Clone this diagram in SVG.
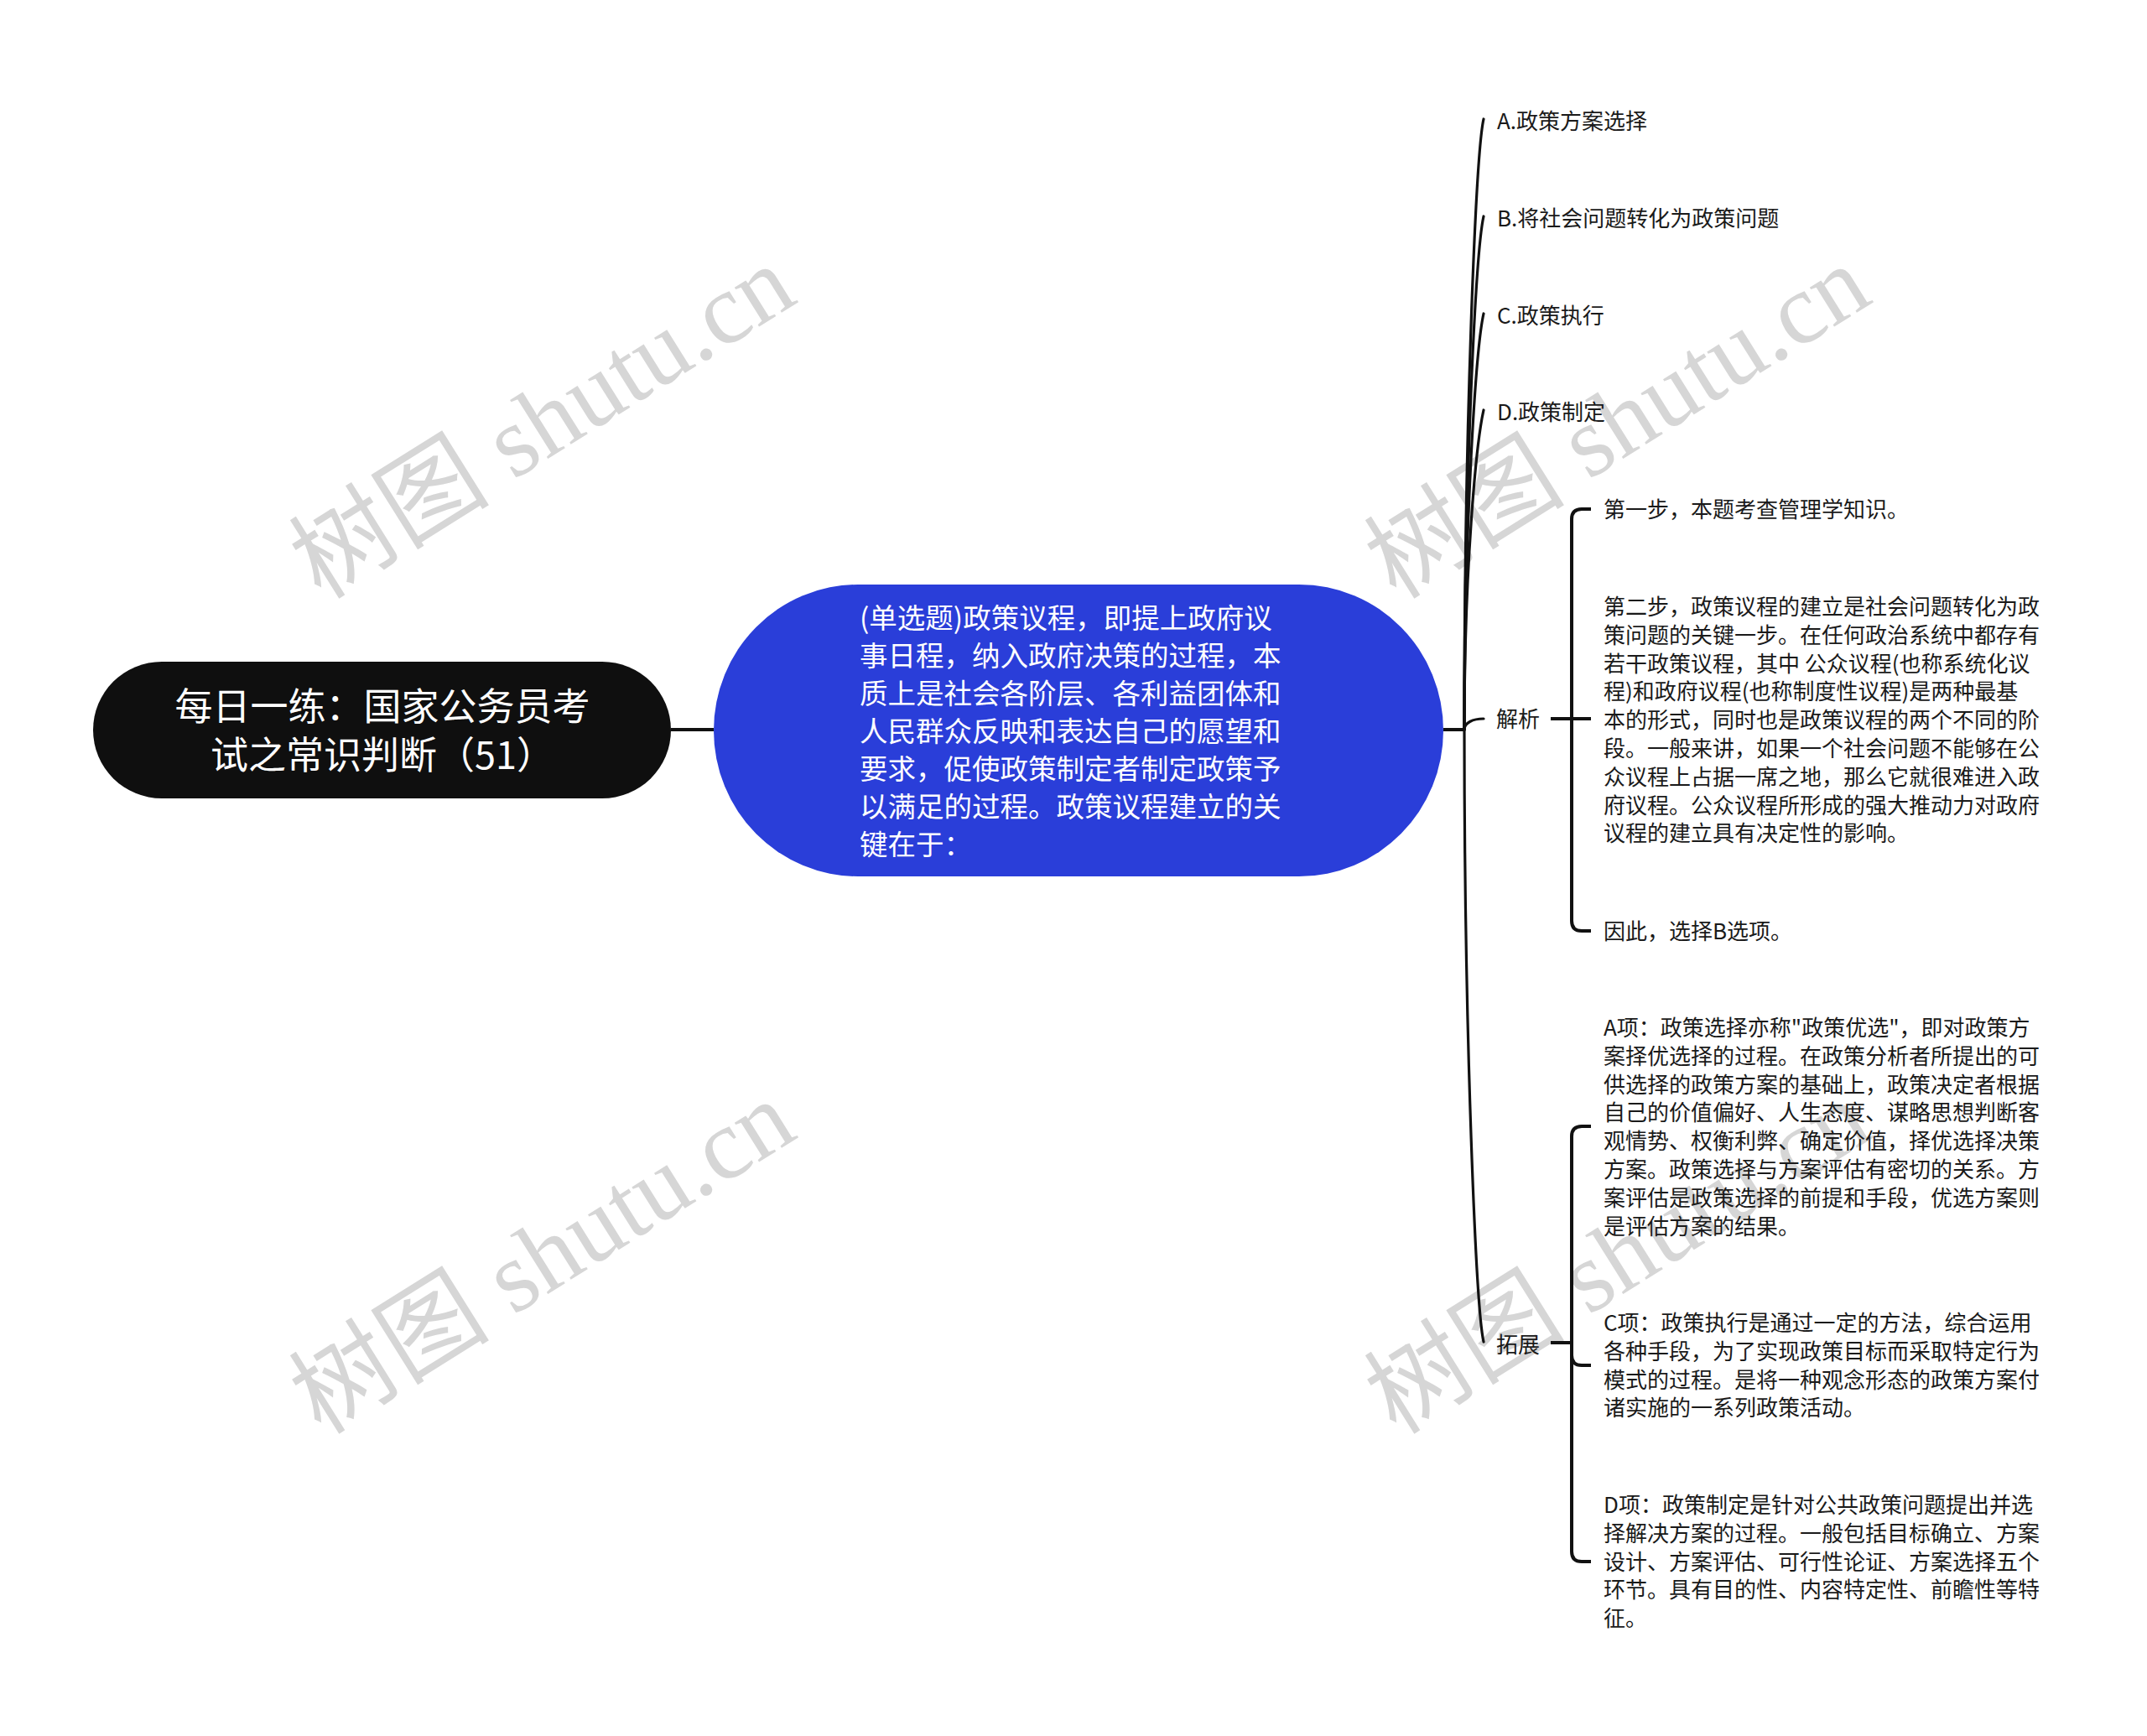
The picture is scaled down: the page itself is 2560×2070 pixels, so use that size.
<svg xmlns="http://www.w3.org/2000/svg" width="2560" height="2070" viewBox="0 0 2560 2070">
<style>
.wm{font-family:"Liberation Serif","Noto Sans CJK SC",serif;font-size:120px;fill:#d6d6d6;}
.t{font-family:"Noto Sans CJK SC","Liberation Sans",sans-serif;font-size:26px;fill:#1a1a1a;}
.root{font-family:"Noto Sans CJK SC","Liberation Sans",sans-serif;font-size:45px;fill:#ffffff;}
.main{font-family:"Noto Sans CJK SC","Liberation Sans",sans-serif;font-size:33.5px;fill:#ffffff;}
.curve{fill:none;stroke:#111;stroke-width:3.2;stroke-linecap:round;}
.line{fill:none;stroke:#111;stroke-width:4;}
</style>
<rect x="0" y="0" width="2560" height="2070" fill="#ffffff"/>
<g id="watermark">
<text class="wm" text-anchor="middle" transform="translate(646,502) rotate(-32)" x="0" y="42">树图 shutu.cn</text>
<text class="wm" text-anchor="middle" transform="translate(1928,502) rotate(-32)" x="0" y="42">树图 shutu.cn</text>
<text class="wm" text-anchor="middle" transform="translate(646,1498) rotate(-32)" x="0" y="42">树图 shutu.cn</text>
<text class="wm" text-anchor="middle" transform="translate(1928,1498) rotate(-32)" x="0" y="42">树图 shutu.cn</text>
</g>
<g id="connectors">
<path class="line" d="M800 870 H851"/>
<path class="line" d="M1721 870 H1746"/>
<path class="curve" d="M1746 870 C1746 506 1760 182 1769 142"/>
<path class="curve" d="M1746 870 C1746 564 1760 298 1769 258"/>
<path class="curve" d="M1746 870 C1746 622 1760 414 1769 374"/>
<path class="curve" d="M1746 870 C1746 680 1760 529 1769 489"/>
<path class="curve" d="M1746 870 C1746 862 1756 857 1769 857"/>
<path class="curve" d="M1746 870 C1746 1235 1760 1560 1769 1600"/>
<path class="line" d="M1849 857 H1874"/>
<path class="line" d="M1874 857 V619 Q1874 607 1886 607 H1897"/>
<path class="line" d="M1874 857 H1897"/>
<path class="line" d="M1874 857 V1098 Q1874 1110 1886 1110 H1897"/>
<path class="line" d="M1849 1601 H1874"/>
<path class="line" d="M1874 1601 V1355 Q1874 1343 1886 1343 H1897"/>
<path class="line" d="M1874 1601 V1616 Q1874 1628 1886 1628 H1897"/>
<path class="line" d="M1874 1601 V1850 Q1874 1862 1886 1862 H1897"/>
</g>
<g id="root">
<rect x="111" y="789" width="689" height="163" rx="82" ry="82" fill="#0f0f0f"/>
<text class="root" text-anchor="middle"><tspan x="456" y="859">每日一练：国家公务员考</tspan><tspan x="456" y="917">试之常识判断（51）</tspan></text>
</g>
<g id="question">
<rect x="851" y="697" width="870" height="348" rx="172" ry="174" fill="#2a3ed9"/>
<text class="main"><tspan x="1025" y="749">(单选题)政策议程，即提上政府议</tspan><tspan x="1025" y="794">事日程，纳入政府决策的过程，本</tspan><tspan x="1025" y="839">质上是社会各阶层、各利益团体和</tspan><tspan x="1025" y="884">人民群众反映和表达自己的愿望和</tspan><tspan x="1025" y="929">要求，促使政策制定者制定政策予</tspan><tspan x="1025" y="974">以满足的过程。政策议程建立的关</tspan><tspan x="1025" y="1019">键在于：</tspan></text>
</g>
<g id="optA"><text class="t" x="1785" y="154">A.政策方案选择</text></g>
<g id="optB"><text class="t" x="1785" y="270">B.将社会问题转化为政策问题</text></g>
<g id="optC"><text class="t" x="1785" y="386">C.政策执行</text></g>
<g id="optD"><text class="t" x="1785" y="501">D.政策制定</text></g>
<g id="jiexi"><text class="t" x="1784" y="867">解析</text></g>
<g id="tuozhan"><text class="t" x="1784" y="1613">拓展</text></g>
<g id="step1"><text class="t" x="1912" y="617">第一步，本题考查管理学知识。</text></g>
<g id="step2"><text class="t"><tspan x="1912" y="733">第二步，政策议程的建立是社会问题转化为政</tspan><tspan x="1912" y="767">策问题的关键一步。在任何政治系统中都存有</tspan><tspan x="1912" y="801">若干政策议程，其中 公众议程(也称系统化议</tspan><tspan x="1912" y="834">程)和政府议程(也称制度性议程)是两种最基</tspan><tspan x="1912" y="868">本的形式，同时也是政策议程的两个不同的阶</tspan><tspan x="1912" y="902">段。一般来讲，如果一个社会问题不能够在公</tspan><tspan x="1912" y="936">众议程上占据一席之地，那么它就很难进入政</tspan><tspan x="1912" y="970">府议程。公众议程所形成的强大推动力对政府</tspan><tspan x="1912" y="1003">议程的建立具有决定性的影响。</tspan></text></g>
<g id="step3"><text class="t" x="1912" y="1120">因此，选择B选项。</text></g>
<g id="itemA"><text class="t"><tspan x="1912" y="1235">A项：政策选择亦称"政策优选"，即对政策方</tspan><tspan x="1912" y="1269">案择优选择的过程。在政策分析者所提出的可</tspan><tspan x="1912" y="1303">供选择的政策方案的基础上，政策决定者根据</tspan><tspan x="1912" y="1336">自己的价值偏好、人生态度、谋略思想判断客</tspan><tspan x="1912" y="1370">观情势、权衡利弊、确定价值，择优选择决策</tspan><tspan x="1912" y="1404">方案。政策选择与方案评估有密切的关系。方</tspan><tspan x="1912" y="1438">案评估是政策选择的前提和手段，优选方案则</tspan><tspan x="1912" y="1472">是评估方案的结果。</tspan></text></g>
<g id="itemC"><text class="t"><tspan x="1912" y="1587">C项：政策执行是通过一定的方法，综合运用</tspan><tspan x="1912" y="1621">各种手段，为了实现政策目标而采取特定行为</tspan><tspan x="1912" y="1655">模式的过程。是将一种观念形态的政策方案付</tspan><tspan x="1912" y="1688">诸实施的一系列政策活动。</tspan></text></g>
<g id="itemD"><text class="t"><tspan x="1912" y="1804">D项：政策制定是针对公共政策问题提出并选</tspan><tspan x="1912" y="1838">择解决方案的过程。一般包括目标确立、方案</tspan><tspan x="1912" y="1872">设计、方案评估、可行性论证、方案选择五个</tspan><tspan x="1912" y="1905">环节。具有目的性、内容特定性、前瞻性等特</tspan><tspan x="1912" y="1939">征。</tspan></text></g>
</svg>
